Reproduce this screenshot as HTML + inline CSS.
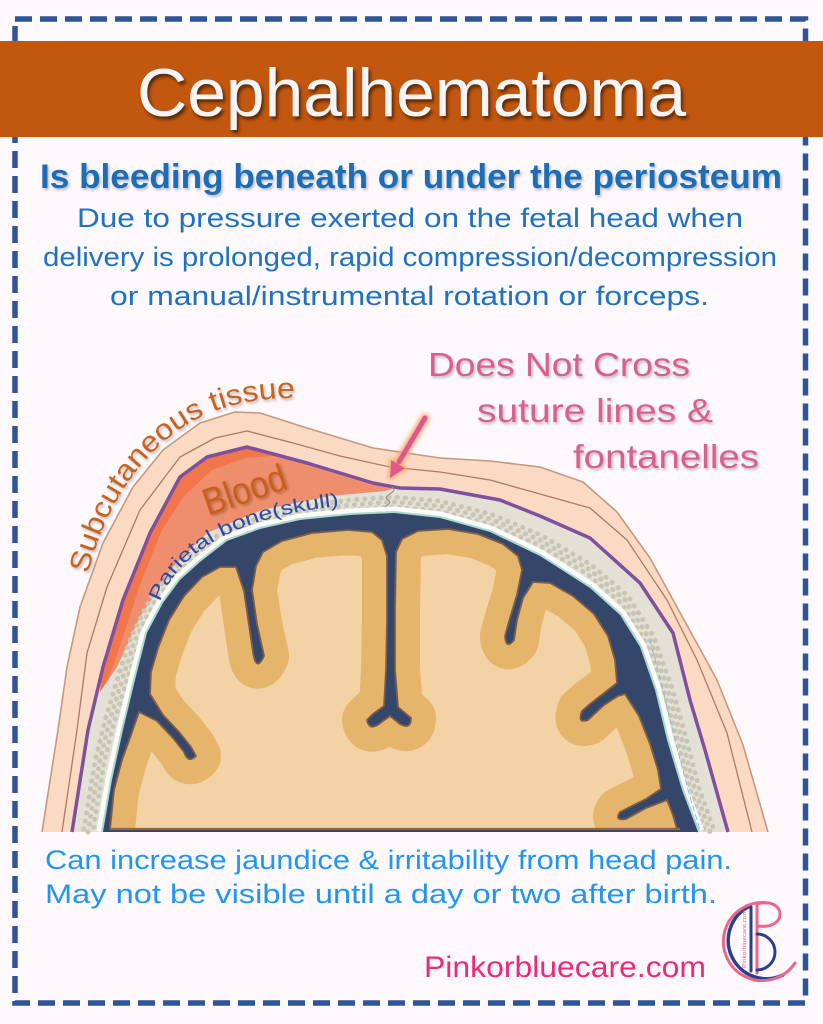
<!DOCTYPE html>
<html><head><meta charset="utf-8"><style>
html,body{margin:0;padding:0;background:#fdf8fc;}
svg{display:block;}
</style></head><body>
<svg width="823" height="1024" viewBox="0 0 823 1024" xmlns="http://www.w3.org/2000/svg">
<defs>
<filter id="tsh" x="-5%" y="-20%" width="110%" height="150%"><feDropShadow dx="2" dy="3" stdDeviation="1.5" flood-color="#3a1805" flood-opacity="0.8"/></filter>
<filter id="lsh" x="-5%" y="-20%" width="110%" height="150%"><feDropShadow dx="1.5" dy="2" stdDeviation="1.2" flood-color="#000" flood-opacity="0.25"/></filter>
<filter id="glow" x="-30%" y="-30%" width="160%" height="160%"><feGaussianBlur stdDeviation="2"/></filter>
<clipPath id="brainclip"><path id="brainP" d="M 110,829 L 114,790 L 122,760 L 131,735 L 139,712 L 157,721 L 173,738 L 184,752 Q 188,764 196,756 L 191,747 L 179,732 L 163,715 L 150,694 L 151,672 L 158,648 L 169,620 L 184,596 L 202,577 L 220,567 L 236,567 L 244,591 L 249,625 L 253,652 Q 256,673 264,656 L 257,624 L 252,590 L 256,566 L 263,552 L 282,541 L 312,533 L 348,530 L 372,532 L 382,540 L 387,556 L 387,620 L 386,670 L 384,706 L 373,714 L 367,720 Q 369,731 379,724 L 390,716 L 400,724 Q 411,730 411,718 L 398,707 L 395,670 L 395,610 L 396,552 L 402,539 L 418,531 L 448,529 L 478,534 L 503,544 L 518,556 L 522,570 L 517,595 L 510,618 L 505,636 Q 506,650 514,640 L 517,620 L 523,598 L 533,582 L 550,583 L 573,596 L 594,614 L 608,636 L 615,660 L 617,683 L 603,694 L 590,704 L 582,711 Q 577,724 588,720 L 604,705 L 618,696 L 625,694 L 639,716 L 650,744 L 658,770 L 661,789 L 646,799 L 630,807 L 620,812 Q 614,821 626,819 L 646,808 L 667,800 L 673,815 L 677,829 Z"/></clipPath>
</defs>

<rect x="0" y="0" width="823" height="1024" fill="#fdf8fc"/>

<!-- dashed border -->
<rect x="15" y="19" width="790.5" height="984" fill="none" stroke="#2f5597" stroke-width="5.5" stroke-dasharray="17 8"/>

<!-- title band -->
<rect x="0" y="41" width="823" height="96" fill="#c25710"/>
<text x="137" y="116" font-family="Liberation Sans, sans-serif" font-size="68" fill="#f5f5f5" textLength="549" lengthAdjust="spacingAndGlyphs" filter="url(#tsh)">Cephalhematoma</text>

<!-- subtitle -->
<text x="40" y="188" font-family="Liberation Sans, sans-serif" font-weight="bold" font-size="34" fill="#1b6db6" textLength="742" lengthAdjust="spacingAndGlyphs" filter="url(#lsh)">Is bleeding beneath or under the periosteum</text>

<g font-family="Liberation Sans, sans-serif" font-size="27" fill="#1f72bf">
<text x="77" y="227" textLength="666" lengthAdjust="spacingAndGlyphs">Due to pressure exerted on the fetal head when</text>
<text x="43" y="266" textLength="734" lengthAdjust="spacingAndGlyphs">delivery is prolonged, rapid compression/decompression</text>
<text x="110" y="305" textLength="599" lengthAdjust="spacingAndGlyphs">or manual/instrumental rotation or forceps.</text>
</g>

<!-- ===== Diagram ===== -->
<!-- skin -->
<polygon points="42,832 58,730 67,667 80,607 103,543 133,487 163,450 200,423 235,412 260,413 307,428 373,448 440,458 490,461 540,467 583,482 617,512 650,558 683,618 717,680 743,745 768,832" fill="#fbdac4"/>
<polyline points="42,832 58,730 67,667 80,607 103,543 133,487 163,450 200,423 235,412 260,413 307,428 373,448 440,458 490,461 540,467 583,482 617,512 650,558 683,618 717,680 743,745 768,832" fill="none" stroke="#c6987e" stroke-width="1.6" stroke-linejoin="round"/>
<polyline points="62,832 77,730 87,653 107,587 140,510 180,457 215,438 247,431 293,443 340,456 390,467 440,472 490,480 540,494 590,508 627,540 667,600 697,660 727,733 752,832" fill="none" stroke="#a97c63" stroke-width="1.3" stroke-linejoin="round"/>

<!-- bone base (inside periosteum) -->
<polygon points="72,832 88,730 103,667 123,600 150,533 180,477 207,457 247,447 307,463 373,483 400,488 440,489 500,500 540,516 590,538 640,583 673,633 690,700 705,750 728,832" fill="#e3e1d5"/>

<!-- blood -->
<polygon points="100,692 103,667 123,600 150,533 180,477 207,457 247,447 307,463 373,483 396,488 385,491 330,496 262,510 207,533 173,567 140,617 117,667" fill="#ef8e6c"/>
<polygon points="100,692 103,667 123,600 150,533 180,477 207,457 247,447 285,455 245,458 212,470 185,495 162,530 140,585 122,640 108,680" fill="#f2764b"/>

<!-- bone dots -->
<g fill="none" stroke="#c8c5b4" stroke-linecap="round">
<path id="midb" d="M 88,832 L 100,760 L 110,720 L 122,680 L 135,640 L 155,600 L 180,570 L 210,545 L 250,526 L 300,512 L 350,505 L 394,502 L 440,506 L 490,519 L 540,540 L 590,570 L 625,600 L 650,640 L 668,690 L 682,740 L 695,790 L 710,832" stroke-width="5" stroke-dasharray="0 8"/>
<use href="#midb" transform="translate(400,832) scale(0.985) translate(-400,-832)" stroke-width="4.5" stroke-dasharray="0 6 0 9" stroke-dashoffset="3"/>
<use href="#midb" transform="translate(400,832) scale(1.015) translate(-400,-832)" stroke-width="4" stroke-dasharray="0 10 0 5" stroke-dashoffset="5"/>
</g>

<!-- periosteum -->
<polyline points="72,832 88,730 103,667 123,600 150,533 180,477 207,457 247,447 307,463 373,483 400,488 440,489 500,500 540,516 590,538 640,583 673,633 690,700 705,750 728,832" fill="none" stroke="#7f509e" stroke-width="3.5" stroke-linejoin="round"/>

<!-- suture -->
<path d="M 392,487 C 400,492 380,496 388,500 C 396,505 375,508 384,513" fill="none" stroke="#8f8f8f" stroke-width="1.1"/>

<!-- dura / dark blue -->
<polyline points="103,832 112,780 123,730 135,680 147,633 163,603 180,580 200,562 227,541 260,529 300,520 350,515 394,513 440,518 490,532 540,556 590,588 620,615 640,647 655,690 667,740 682,790 698,832" fill="none" stroke="#fbfbf7" stroke-width="13" stroke-linejoin="round"/>
<polyline points="103,832 112,780 123,730 135,680 147,633 163,603 180,580 200,562 227,541 260,529 300,520 350,515 394,513 440,518 490,532 540,556 590,588 620,615 640,647 655,690 667,740 682,790 698,832" fill="none" stroke="#a9d8d1" stroke-width="4" stroke-linejoin="round"/>
<polygon points="103,832 112,780 123,730 135,680 147,633 163,603 180,580 200,562 227,541 260,529 300,520 350,515 394,513 440,518 490,532 540,556 590,588 620,615 640,647 655,690 667,740 682,790 698,832" fill="#34466a"/>
<polyline points="650,640 663,690 675,740 688,790 700,830" fill="none" stroke="#8fb2c8" stroke-width="0.8" stroke-dasharray="6 3"/>

<!-- brain -->
<use href="#brainP" fill="#f3d2a6"/>
<g clip-path="url(#brainclip)">
<path d="M 110,829 L 114,790 L 122,760 L 131,735 L 139,712 L 157,721 L 173,738 L 184,752 Q 188,764 196,756 L 191,747 L 179,732 L 163,715 L 150,694 L 151,672 L 158,648 L 169,620 L 184,596 L 202,577 L 220,567 L 236,567 L 244,591 L 249,625 L 253,652 Q 256,673 264,656 L 257,624 L 252,590 L 256,566 L 263,552 L 282,541 L 312,533 L 348,530 L 372,532 L 382,540 L 387,556 L 387,620 L 386,670 L 384,706 L 373,714 L 367,720 Q 369,731 379,724 L 390,716 L 400,724 Q 411,730 411,718 L 398,707 L 395,670 L 395,610 L 396,552 L 402,539 L 418,531 L 448,529 L 478,534 L 503,544 L 518,556 L 522,570 L 517,595 L 510,618 L 505,636 Q 506,650 514,640 L 517,620 L 523,598 L 533,582 L 550,583 L 573,596 L 594,614 L 608,636 L 615,660 L 617,683 L 603,694 L 590,704 L 582,711 Q 577,724 588,720 L 604,705 L 618,696 L 625,694 L 639,716 L 650,744 L 658,770 L 661,789 L 646,799 L 630,807 L 620,812 Q 614,821 626,819 L 646,808 L 667,800 L 673,815 L 677,829" fill="none" stroke="#e5b56b" stroke-width="50" stroke-linejoin="round"/>
</g>
<use href="#brainP" fill="none" stroke="#7d5d48" stroke-width="1.8" stroke-linejoin="round"/>
<line x1="110" y1="829" x2="680" y2="829" stroke="#8a6a4c" stroke-width="2.2"/>

<!-- diagram labels -->
<path id="subpath" d="M 88,574 C 106,500 150,440 205,415 C 235,402 270,396 306,399" fill="none"/>
<text font-family="Liberation Sans, sans-serif" font-size="29" fill="#c6631d" filter="url(#lsh)"><textPath href="#subpath" textLength="296" lengthAdjust="spacingAndGlyphs">Subcutaneous tissue</textPath></text>

<text x="208" y="516" transform="rotate(-19 208 516)" font-family="Liberation Sans, sans-serif" font-size="38" fill="#c65f1e" textLength="86" lengthAdjust="spacingAndGlyphs" filter="url(#lsh)">Blood</text>

<path id="parpath" d="M 160,602 C 177,555 232,515 350,505" fill="none"/>
<text font-family="Liberation Sans, sans-serif" font-size="19" fill="#2a4aa4"><textPath href="#parpath" textLength="214" lengthAdjust="spacingAndGlyphs">Parietal bone(skull)</textPath></text>

<g font-family="Liberation Sans, sans-serif" font-size="33" fill="#d8608b" filter="url(#lsh)">
<text x="428" y="376" textLength="262" lengthAdjust="spacingAndGlyphs">Does Not Cross</text>
<text x="477" y="422" textLength="236" lengthAdjust="spacingAndGlyphs">suture lines &amp;</text>
<text x="573" y="468" textLength="186" lengthAdjust="spacingAndGlyphs">fontanelles</text>
</g>

<!-- arrow -->
<g filter="url(#glow)" opacity="0.9">
<line x1="425" y1="418" x2="398" y2="463" stroke="#f5a86e" stroke-width="9" stroke-linecap="round"/>
<polygon points="390,478 405,468.2 391.2,460.2" fill="#f5a86e" stroke="#f5a86e" stroke-width="4" stroke-linejoin="round"/>
</g>
<line x1="425" y1="418" x2="399" y2="462" stroke="#e0588a" stroke-width="5" stroke-linecap="round"/>
<polygon points="390,478 405,468.2 391.2,460.2" fill="#e0588a"/>

<!-- bottom text -->
<g font-family="Liberation Sans, sans-serif" font-size="27" fill="#2196f0">
<text x="45" y="869" textLength="687" lengthAdjust="spacingAndGlyphs">Can increase jaundice &amp; irritability from head pain.</text>
<text x="45" y="903" textLength="672" lengthAdjust="spacingAndGlyphs">May not be visible until a day or two after birth.</text>
</g>
<text x="424" y="977" font-family="Liberation Sans, sans-serif" font-size="30" fill="#f0287a" textLength="282" lengthAdjust="spacingAndGlyphs">Pinkorbluecare.com</text>

<!-- logo -->
<g fill="none" stroke-linecap="round">
<path d="M 750,906 A 38,38 0 1 0 783,975" stroke="#2b3f8f" stroke-width="3.5"/>
<path d="M 768,903 A 39,39 0 1 0 795,963" stroke="#e8678f" stroke-width="3"/>
<line x1="751" y1="907" x2="751" y2="971" stroke="#2b3f8f" stroke-width="3"/>
<line x1="757" y1="904" x2="757" y2="973" stroke="#e8678f" stroke-width="3"/>
<path d="M 757,904 C 786,896 789,930 758,926" stroke="#e8678f" stroke-width="3"/>
<path d="M 757,934 A 18,18 0 1 1 757,970" stroke="#2b3f8f" stroke-width="3"/>
</g>
<text x="746" y="968" transform="rotate(-90 746 968)" font-family="Liberation Sans, sans-serif" font-size="5" fill="#e8678f" textLength="58" lengthAdjust="spacingAndGlyphs">Pinkorbluecare.com</text>
</svg>
</body></html>
